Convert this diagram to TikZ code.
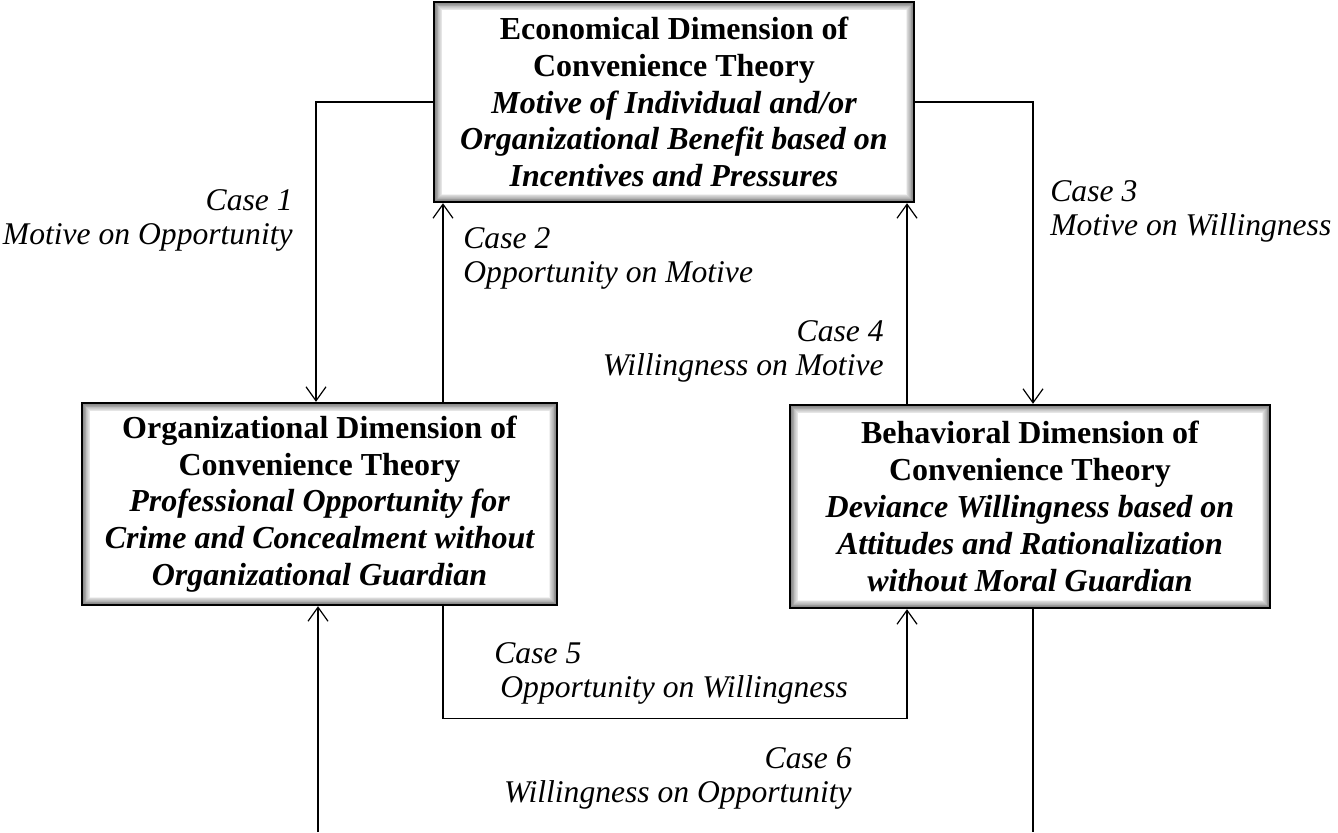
\documentclass[tikz,border=0pt]{standalone}
\usepackage{fontspec}
\setmainfont{Liberation Serif}
\usetikzlibrary{arrows.meta}

\tikzset{
  dimbox/.style={draw, line width=1.2pt, fill=white, align=center, inner sep=0pt,
    font=\fontsize{16}{18.4}\selectfont\bfseries,
    path picture={
      \foreach \k [evaluate=\k as \g using int(55-5*\k)] in {1,...,11}
        \draw[black!\g, line width=0.5pt]
          ([shift={(\k*0.4pt,-\k*0.4pt)}]path picture bounding box.north west) rectangle
          ([shift={(-\k*0.4pt,\k*0.4pt)}]path picture bounding box.south east);
    }},
  caselabel/.style={font=\fontsize{15.8}{17}\selectfont\itshape, inner sep=0pt},
  arr/.style={line width=0.6pt, -{Straight Barb[length=7pt,width=10pt]}},
  plain/.style={line width=0.6pt}
}

\begin{document}
\begin{tikzpicture}[x=0.5pt, y=-0.5pt]
    \useasboundingbox (0,0) rectangle (1338,832);

    % Dimension boxes
    \node[dimbox, minimum width=240pt, minimum height=100pt] (eco) at (674,102)
        {Economical Dimension of\\Convenience Theory\\ \itshape Motive of Individual and/or\\ \itshape Organizational Benefit based on\\ \itshape Incentives and Pressures};
    \node[dimbox, minimum width=237.5pt, minimum height=101pt] (org) at (319.5,504)
        {Organizational Dimension of\\Convenience Theory\\ \itshape Professional Opportunity for\\ \itshape Crime and Concealment without\\ \itshape Organizational Guardian};
    \node[dimbox, minimum width=240pt, minimum height=101.5pt] (beh) at (1030,506.5)
        {Behavioral Dimension of\\Convenience Theory\\ \itshape Deviance Willingness based on\\ \itshape Attitudes and Rationalization\\ \itshape without Moral Guardian};

    % Cases 1 and 2
    \draw[arr] (eco.west) -| ([xshift=-1.75pt]org.north);
    \draw[arr] (org.north -| 443,0) -- (eco.south -| 443,0);

    % Cases 3 and 4
    \draw[arr] (eco.east) -| ([xshift=1.5pt]beh.north);
    \draw[arr] (beh.north -| 907,0) -- (eco.south -| 907,0);

    % Case 5
    \draw[arr] (org.south -| 443,0) -- ++(0,112) -| (beh.south -| 907,0);

    % Case 6 (runs out of the picture)
    \coordinate (out6a) at ([xshift=1.5pt]beh.south |- 0,832);
    \coordinate (out6b) at ([xshift=-0.75pt]org.south |- 0,832);
    \draw[plain] ([xshift=1.5pt]beh.south) -- (out6a);
    \draw[arr] (out6b) -- ([xshift=-0.75pt]org.south);

    % Case labels (base = last line)
    \node[caselabel, align=right, anchor=base east] (lab1) at (293,244) {Case 1\\Motive on Opportunity};
    \node[caselabel, align=left, anchor=base west] (lab2) at (463,282) {Case 2\\Opportunity on Motive};
    \node[caselabel, align=left, anchor=base west] (lab3) at (1050,235) {Case 3\\Motive on Willingness};
    \node[caselabel, align=right, anchor=base east] (lab4) at (884,375) {Case 4\\Willingness on Motive};
    \node[caselabel, align=left, anchor=base west] (lab5) at (494,697) {Case 5\\\hspace{3pt}Opportunity on Willingness};
    \node[caselabel, align=right, anchor=base east] (lab6) at (852,802) {Case 6\\Willingness on Opportunity};
\end{tikzpicture}
\end{document}
